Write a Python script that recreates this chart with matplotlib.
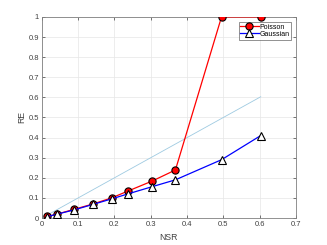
import matplotlib
matplotlib.use("Agg")
import matplotlib.pyplot as plt

plt.rcParams['font.family'] = ['Liberation Sans', 'DejaVu Sans']

nsr = [0.015, 0.043, 0.088, 0.141, 0.192, 0.237, 0.304, 0.368, 0.495, 0.603]
re_poisson = [0.008, 0.02, 0.043, 0.07, 0.10, 0.134, 0.184, 0.239, 1.0, 1.0]
re_gaussian = [0.007, 0.02, 0.04, 0.068, 0.095, 0.12, 0.156, 0.19, 0.29, 0.41]
ref_x = [0.015, 0.603]
ref_y = [0.015, 0.603]

fig = plt.figure(figsize=(3.27, 2.45), dpi=100)
ax = fig.add_axes([0.128, 0.110, 0.777, 0.821])

ax.plot(ref_x, ref_y, color="#9ecae1", lw=0.6, zorder=2)
ax.plot(nsr, re_poisson, color="red", lw=0.9, marker="o", ms=5.2,
        mfc="red", mec="black", mew=0.8, label="Poisson", zorder=3)
ax.plot(nsr, re_gaussian, color="blue", lw=0.9, marker="^", ms=5.8,
        mfc="white", mec="black", mew=0.8, label="Gaussian", zorder=4)

ax.set_xlim(0, 0.7)
ax.set_ylim(0, 1)
ax.set_xticks([0, 0.1, 0.2, 0.3, 0.4, 0.5, 0.6, 0.7])
ax.set_xticklabels(["0", "0.1", "0.2", "0.3", "0.4", "0.5", "0.6", "0.7"])
ax.set_yticks([0, 0.1, 0.2, 0.3, 0.4, 0.5, 0.6, 0.7, 0.8, 0.9, 1])
ax.set_yticklabels(["0", "0.1", "0.2", "0.3", "0.4", "0.5", "0.6", "0.7", "0.8", "0.9", "1"])
ax.grid(True, color="#e6e6e6", lw=0.5)
ax.set_axisbelow(True)
ax.tick_params(direction="in", length=2.5, width=0.5, labelsize=5.5,
               colors="#404040", top=True, right=True, pad=2)
for s in ax.spines.values():
    s.set_color("#808080")
    s.set_linewidth(0.6)
ax.set_xlabel("NSR", fontsize=6.2, color="#404040", labelpad=3.5)
ax.set_ylabel("RE", fontsize=6.2, color="#404040", labelpad=2)

leg = ax.legend(loc="upper right", fontsize=5, frameon=True, fancybox=False,
                borderpad=0.25, labelspacing=0.05, handlelength=2.6,
                handletextpad=0.1, borderaxespad=0.7)
leg.get_frame().set_edgecolor("#404040")
leg.get_frame().set_linewidth(0.5)

fig.savefig("out.png", dpi=100)
